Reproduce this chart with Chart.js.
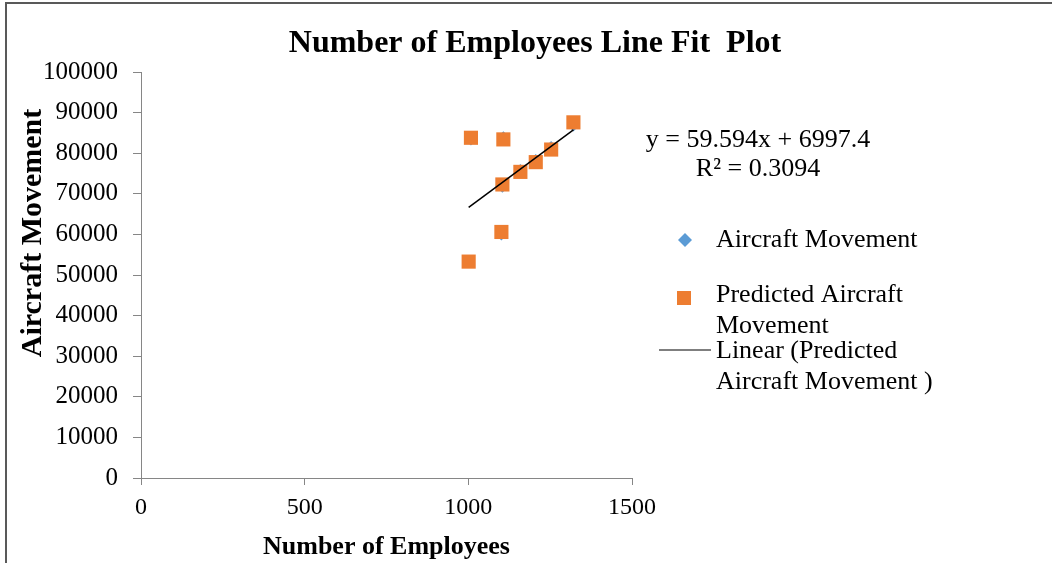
<!DOCTYPE html>
<html>
<head>
  <title>Number of Employees Line Fit Plot</title>
  <style>
    body { margin: 0; background: #fff; }
    #wrap { width: 1052px; height: 563px; position: relative; }
  </style>
</head>
<body>
  <div id="wrap"><canvas id="chart"></canvas></div>

  <script src="https://cdn.jsdelivr.net/npm/chart.js"></script>
  <script>
    // values
    const employees = [1008, 1107, 1104, 1159, 1206, 1253, 1321, 1101, 1001];
    const aircraftMovement = [83100, 84200, 71500, 76100, 78600, 81800, 86600, 59700, 53300];
    const predictedMovement = [83800, 83400, 72300, 75400, 77800, 80900, 87600, 60600, 53300];
    const xTicks = [0, 500, 1000, 1500];
    const yTicks = [0, 10000, 20000, 30000, 40000, 50000, 60000, 70000, 80000, 90000, 100000];

    // trendline shown on the chart
    const slope = 59.594;
    const intercept = 6997.4;
    const rSquared = 0.3094;

    const serif = '"Liberation Serif", "Times New Roman", serif';
    const blue = '#5B9BD5';
    const orange = '#ED7D31';
    const axisGrey = '#868686';

    const xMin = Math.min(...employees);
    const xMax = Math.max(...employees);
    const trend = [
      { x: xMin, y: slope * xMin + intercept },
      { x: xMax, y: slope * xMax + intercept }
    ];

    const actualPts = employees.map((x, i) => ({ x: x, y: aircraftMovement[i] }));
    const predPts = employees.map((x, i) => ({ x: x, y: predictedMovement[i] }));

    // frame, title, equation, y title and legend
    const decorations = {
      id: 'decorations',
      afterDraw(chart) {
        const ctx = chart.ctx;
        ctx.save();

        ctx.strokeStyle = '#595959';
        ctx.lineWidth = 2;
        ctx.beginPath();
        ctx.moveTo(6, 563);
        ctx.lineTo(6, 3);
        ctx.lineTo(1052, 3);
        ctx.stroke();

        ctx.fillStyle = '#000';
        ctx.textBaseline = 'alphabetic';
        ctx.textAlign = 'center';
        ctx.font = 'bold 32px ' + serif;
        ctx.fillText('Number of Employees Line Fit  Plot', 535, 52);

        ctx.font = '26px ' + serif;
        ctx.fillText('y = ' + slope + 'x + ' + intercept, 758, 147);
        ctx.fillText('R\u00B2 = ' + rSquared, 758, 176);

        ctx.save();
        ctx.translate(33, 233);
        ctx.rotate(-Math.PI / 2);
        ctx.font = 'bold 30px ' + serif;
        ctx.textBaseline = 'middle';
        ctx.fillText('Aircraft Movement', 0, 0);
        ctx.restore();

        // legend
        ctx.textAlign = 'left';
        ctx.textBaseline = 'middle';
        ctx.font = '26px ' + serif;
        const itemY = [240, 295, 351];
        const lineGap = 31;
        const maxW = 225;
        const sets = [chart.data.datasets[2], chart.data.datasets[1], chart.data.datasets[0]];
        sets.forEach((ds, k) => {
          const y = itemY[k];
          if (ds.pointStyle === 'rectRot') {
            ctx.fillStyle = ds.backgroundColor;
            ctx.beginPath();
            ctx.moveTo(685, y - 7);
            ctx.lineTo(692, y);
            ctx.lineTo(685, y + 7);
            ctx.lineTo(678, y);
            ctx.closePath();
            ctx.fill();
          } else if (ds.pointStyle === 'rect') {
            ctx.fillStyle = ds.backgroundColor;
            ctx.fillRect(677, y - 4, 14, 14);
          } else {
            ctx.strokeStyle = ds.borderColor;
            ctx.lineWidth = 1.2;
            ctx.beginPath();
            ctx.moveTo(659, y - 1);
            ctx.lineTo(711, y - 1);
            ctx.stroke();
          }
          const words = ds.label.split(' ');
          const lines = [];
          let cur = '';
          words.forEach(w => {
            const t = cur ? cur + ' ' + w : w;
            if (ctx.measureText(t).width > maxW && cur) { lines.push(cur); cur = w; }
            else cur = t;
          });
          lines.push(cur);
          ctx.fillStyle = '#000';
          lines.forEach((l, j) => ctx.fillText(l, 716, y + j * lineGap));
        });

        ctx.restore();
      }
    };

    new Chart(document.getElementById('chart'), {
      type: 'scatter',
      data: {
        datasets: [
          {
            type: 'line',
            label: 'Linear (Predicted Aircraft Movement )',
            data: trend,
            borderColor: '#000',
            borderWidth: 1.5,
            pointRadius: 0,
            fill: false,
            order: 0
          },
          {
            label: 'Predicted Aircraft Movement',
            data: predPts,
            pointStyle: 'rect',
            pointRadius: 10,
            backgroundColor: orange,
            borderColor: orange,
            borderWidth: 0,
            order: 1
          },
          {
            label: 'Aircraft Movement',
            data: actualPts,
            pointStyle: 'rectRot',
            pointRadius: 5,
            backgroundColor: blue,
            borderColor: blue,
            borderWidth: 0,
            order: 2
          }
        ]
      },
      options: {
        responsive: true,
        maintainAspectRatio: false,
        animation: false,
        events: [],
        layout: { padding: { left: 0, top: 72, right: 420, bottom: 0 } },
        plugins: {
          legend: { display: false },
          tooltip: { enabled: false },
          title: { display: false }
        },
        scales: {
          x: {
            type: 'linear',
            min: 0,
            max: 1500,
            afterBuildTicks: s => { s.ticks = xTicks.map(v => ({ value: v })); },
            afterFit: s => { s.height = 85; },
            grid: { display: true, drawOnChartArea: false, drawTicks: true, tickLength: 7, color: axisGrey },
            border: { display: true, color: axisGrey, width: 1 },
            ticks: { color: '#000', font: { family: serif, size: 24 }, padding: 8, maxRotation: 0, callback: v => String(v) },
            title: {
              display: true,
              text: 'Number of Employees',
              color: '#000',
              font: { family: serif, size: 26, weight: 'bold' },
              padding: { top: 0, bottom: 0 }
            }
          },
          y: {
            type: 'linear',
            min: 0,
            max: 100000,
            afterBuildTicks: s => { s.ticks = yTicks.map(v => ({ value: v })); },
            afterFit: s => { s.width = 141; },
            grid: { display: true, drawOnChartArea: false, drawTicks: true, tickLength: 8, color: axisGrey },
            border: { display: true, color: axisGrey, width: 1 },
            ticks: { color: '#000', font: { family: serif, size: 25 }, padding: 15, callback: v => String(v) }
          }
        }
      },
      plugins: [decorations]
    });
  </script>
</body>
</html>
